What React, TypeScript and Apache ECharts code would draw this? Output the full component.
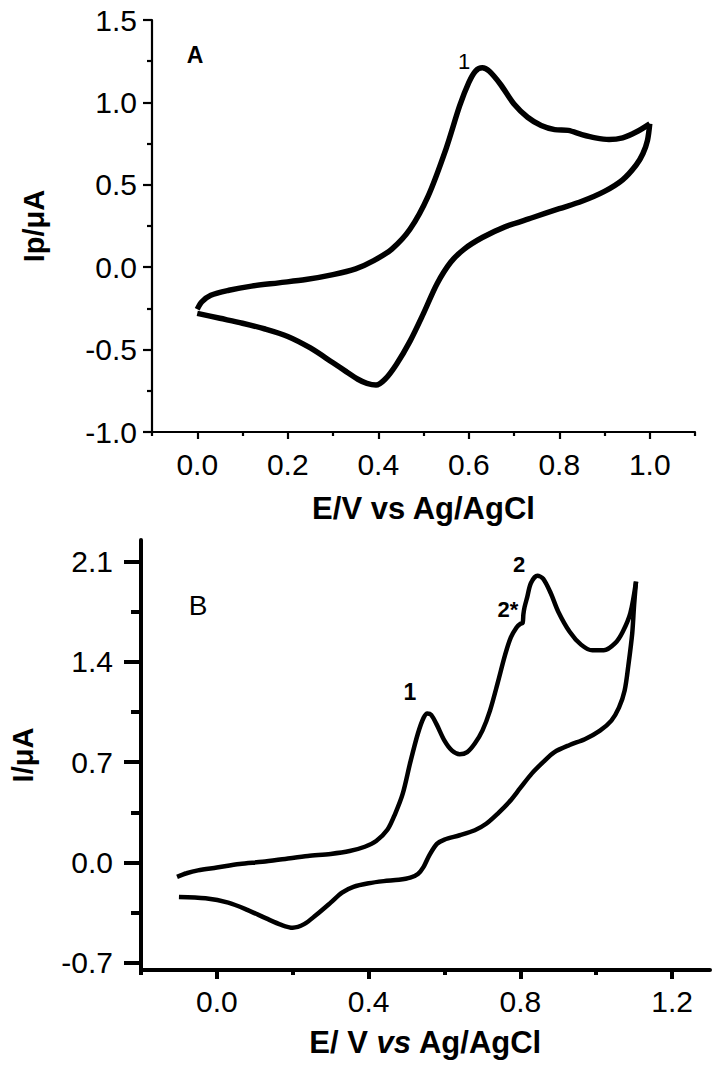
import React, { useEffect, useRef } from "react";
import * as echarts from "echarts";

// Panel A: cyclic voltammogram (E in V, I in µA)
const aForward: [number, number][] = [
  [0.0, -0.255], [0.01, -0.21], [0.03, -0.17], [0.07, -0.14], [0.12, -0.115],
  [0.18, -0.095], [0.24, -0.075], [0.30, -0.045], [0.35, -0.01], [0.39, 0.04],
  [0.43, 0.11], [0.47, 0.23], [0.51, 0.43], [0.55, 0.72], [0.58, 0.98],
  [0.60, 1.12], [0.615, 1.19], [0.63, 1.21], [0.645, 1.19], [0.67, 1.11],
  [0.70, 0.99], [0.73, 0.91], [0.76, 0.86], [0.79, 0.835], [0.82, 0.83],
  [0.85, 0.805], [0.88, 0.785], [0.91, 0.775], [0.94, 0.785], [0.97, 0.82],
  [1.0, 0.87],
];
const aReverse: [number, number][] = [
  [1.0, 0.87], [0.995, 0.77], [0.985, 0.69], [0.97, 0.62], [0.94, 0.53],
  [0.90, 0.46], [0.85, 0.40], [0.80, 0.355], [0.74, 0.30], [0.68, 0.245],
  [0.63, 0.18], [0.59, 0.11], [0.56, 0.03], [0.53, -0.10], [0.50, -0.28],
  [0.47, -0.45], [0.44, -0.59], [0.415, -0.68], [0.395, -0.715], [0.375, -0.705],
  [0.355, -0.68], [0.33, -0.635], [0.30, -0.58], [0.25, -0.49], [0.20, -0.42],
  [0.15, -0.375], [0.10, -0.34], [0.05, -0.31], [0.0, -0.28],
];

// Panel B
const bForward: [number, number][] = [
  [-0.105, -0.10], [-0.08, -0.075], [-0.05, -0.055], [0.0, -0.035], [0.06, -0.01],
  [0.12, 0.005], [0.18, 0.025], [0.24, 0.045], [0.30, 0.06], [0.35, 0.08],
  [0.39, 0.11], [0.42, 0.15], [0.45, 0.23], [0.47, 0.34], [0.49, 0.48],
  [0.51, 0.70], [0.53, 0.90], [0.545, 1.01], [0.555, 1.04], [0.565, 1.03],
  [0.58, 0.96], [0.60, 0.85], [0.62, 0.78], [0.64, 0.755], [0.66, 0.77],
  [0.68, 0.83], [0.70, 0.92], [0.72, 1.06], [0.74, 1.25], [0.76, 1.45],
  [0.775, 1.57], [0.79, 1.64], [0.80, 1.665], [0.806, 1.67], [0.808, 1.73],
  [0.811, 1.78], [0.818, 1.85], [0.828, 1.95], [0.845, 2.0], [0.86, 1.98],
  [0.88, 1.88], [0.90, 1.75], [0.93, 1.61], [0.96, 1.52], [0.99, 1.48],
  [1.02, 1.48], [1.05, 1.53], [1.07, 1.61], [1.09, 1.74], [1.105, 1.96],
];
const bReverse: [number, number][] = [
  [1.105, 1.96], [1.10, 1.80], [1.095, 1.60], [1.085, 1.38], [1.075, 1.20],
  [1.06, 1.08], [1.04, 0.99], [1.01, 0.92], [0.97, 0.86], [0.93, 0.82],
  [0.89, 0.77], [0.86, 0.70], [0.83, 0.62], [0.80, 0.52], [0.77, 0.42],
  [0.74, 0.34], [0.71, 0.27], [0.68, 0.225], [0.64, 0.19], [0.60, 0.16],
  [0.58, 0.13], [0.56, 0.05], [0.545, -0.03], [0.53, -0.08], [0.51, -0.105],
  [0.48, -0.12], [0.44, -0.13], [0.40, -0.145], [0.36, -0.17], [0.33, -0.21],
  [0.30, -0.28], [0.26, -0.37], [0.23, -0.43], [0.20, -0.455], [0.17, -0.435],
  [0.13, -0.39], [0.08, -0.33], [0.03, -0.28], [-0.03, -0.25], [-0.10, -0.24],
];

// Ticks
const aXMajor = [0.0, 0.2, 0.4, 0.6, 0.8, 1.0];
const aXMinor = [-0.1, 0.1, 0.3, 0.5, 0.7, 0.9, 1.1];
const bXMajor = [0.0, 0.4, 0.8, 1.2];
const bXMinor = [-0.2, 0.2, 0.6, 1.0];
const bYMajor = [-0.7, 0.0, 0.7, 1.4, 2.1];
const bYMinor = [-0.35, 0.35, 1.05, 1.75];

const FONT = "'Liberation Sans', Arial, sans-serif";
const fmt = (v: number) => Number(v).toFixed(1);

export default function App() {
  const ref = useRef<HTMLDivElement>(null);
  useEffect(() => {
    if (!ref.current) return;
    const chart = echarts.init(ref.current, null, { renderer: "svg" });
    const labelStyle = { color: "#000", fontSize: 30, fontFamily: FONT };
    const nameStyle = { color: "#000", fontSize: 31, fontWeight: "bold" as const, fontFamily: FONT };
    const yNameStyle = { color: "#000", fontSize: 29, fontWeight: "bold" as const, fontFamily: FONT };
    const lineA = { lineStyle: { color: "#000", width: 2.2 } };
    const lineB = { lineStyle: { color: "#000", width: 4 } };
    chart.setOption({
      animation: false,
      backgroundColor: "#fff",
      grid: [
        { left: 152, top: 20, width: 543, height: 412 },
        { left: 133, top: 540, width: 577, height: 430 },
      ],
      xAxis: [
        {
          type: "value", gridIndex: 0, min: -0.1, max: 1.1, position: "bottom",
          axisLine: { show: true, onZero: false, ...lineA },
          axisTick: { show: true, customValues: aXMajor, length: 7, inside: false, ...lineA },
          axisLabel: { customValues: aXMajor, formatter: fmt, margin: 17, ...labelStyle },
          splitLine: { show: false },
          name: "E/V vs Ag/AgCl", nameLocation: "middle", nameGap: 61, nameTextStyle: nameStyle,
        },
        {
          type: "value", gridIndex: 0, min: -0.1, max: 1.1, position: "bottom",
          axisLine: { show: false, onZero: false },
          axisTick: { show: true, customValues: aXMinor, length: 4, ...lineA },
          axisLabel: { show: false },
          splitLine: { show: false },
        },
        {
          type: "value", gridIndex: 1, min: -0.2, max: 1.3, position: "bottom",
          axisLine: { show: true, onZero: false, ...lineB },
          axisTick: { show: true, customValues: bXMajor, length: 9, ...lineB },
          axisLabel: { customValues: bXMajor, formatter: fmt, margin: 16, ...labelStyle },
          splitLine: { show: false },
          name: "E/ V {i|vs} Ag/AgCl", nameLocation: "middle", nameGap: 57,
          nameTextStyle: {
            ...nameStyle,
            rich: { i: { fontStyle: "italic", fontWeight: "bold", fontSize: 31, fontFamily: FONT, color: "#000" } },
          },
        },
        {
          type: "value", gridIndex: 1, min: -0.2, max: 1.3, position: "bottom",
          axisLine: { show: false, onZero: false },
          axisTick: { show: true, customValues: bXMinor, length: 5, ...lineB },
          axisLabel: { show: false },
          splitLine: { show: false },
        },
      ],
      yAxis: [
        {
          type: "value", gridIndex: 0, min: -1.0, max: 1.5, interval: 0.5, position: "left",
          axisLine: { show: true, onZero: false, ...lineA },
          axisTick: { show: true, length: 9, ...lineA },
          minorTick: { show: true, splitNumber: 2, length: 5, ...lineA },
          axisLabel: { formatter: fmt, margin: 15, ...labelStyle },
          splitLine: { show: false },
          name: "Ip/μA", nameLocation: "middle", nameGap: 104, nameTextStyle: yNameStyle,
        },
        {
          type: "value", gridIndex: 1, min: -0.75, max: 2.25, position: "left",
          axisLine: { show: true, onZero: false, ...lineB },
          axisTick: { show: true, customValues: bYMajor, length: 17, ...lineB },
          axisLabel: { customValues: bYMajor, formatter: fmt, margin: 28, ...labelStyle },
          splitLine: { show: false },
          name: "I/μA", nameLocation: "middle", nameGap: 104, nameTextStyle: yNameStyle,
        },
        {
          type: "value", gridIndex: 1, min: -0.75, max: 2.25, position: "left",
          axisLine: { show: false, onZero: false },
          axisTick: { show: true, customValues: bYMinor, length: 10, ...lineB },
          axisLabel: { show: false },
          splitLine: { show: false },
        },
      ],
      series: [
        { name: "A forward", type: "line", xAxisIndex: 0, yAxisIndex: 0, data: aForward, showSymbol: false, smooth: 0.3, lineStyle: { color: "#000", width: 5.5 } },
        { name: "A reverse", type: "line", xAxisIndex: 0, yAxisIndex: 0, data: aReverse, showSymbol: false, smooth: 0.3, lineStyle: { color: "#000", width: 5.5 } },
        { name: "B forward", type: "line", xAxisIndex: 2, yAxisIndex: 1, data: bForward, showSymbol: false, smooth: 0.3, lineStyle: { color: "#000", width: 4.5 } },
        { name: "B reverse", type: "line", xAxisIndex: 2, yAxisIndex: 1, data: bReverse, showSymbol: false, smooth: 0.3, lineStyle: { color: "#000", width: 4.5 } },
      ],
      graphic: [
        { type: "text", x: 195, y: 55, style: { text: "A", fontSize: 23, fontWeight: "bold", fontFamily: FONT, fill: "#000", textAlign: "center", textVerticalAlign: "middle" } },
        { type: "text", x: 464, y: 61, style: { text: "1", fontSize: 22, fontFamily: FONT, fill: "#000", textAlign: "center", textVerticalAlign: "middle" } },
        { type: "text", x: 198, y: 605, style: { text: "B", fontSize: 28, fontFamily: FONT, fill: "#000", textAlign: "center", textVerticalAlign: "middle" } },
        { type: "text", x: 410, y: 692, style: { text: "1", fontSize: 23, fontWeight: "bold", fontFamily: FONT, fill: "#000", textAlign: "center", textVerticalAlign: "middle" } },
        { type: "text", x: 519, y: 564, style: { text: "2", fontSize: 22, fontWeight: "bold", fontFamily: FONT, fill: "#000", textAlign: "center", textVerticalAlign: "middle" } },
        { type: "text", x: 508, y: 609, style: { text: "2*", fontSize: 22, fontWeight: "bold", fontFamily: FONT, fill: "#000", textAlign: "center", textVerticalAlign: "middle" } },
      ],
    });
    return () => chart.dispose();
  }, []);
  return (
    <div
      ref={ref}
      style={{ position: "absolute", left: 0, top: 0, width: 714, height: 1074, background: "#fff" }}
    />
  );
}
